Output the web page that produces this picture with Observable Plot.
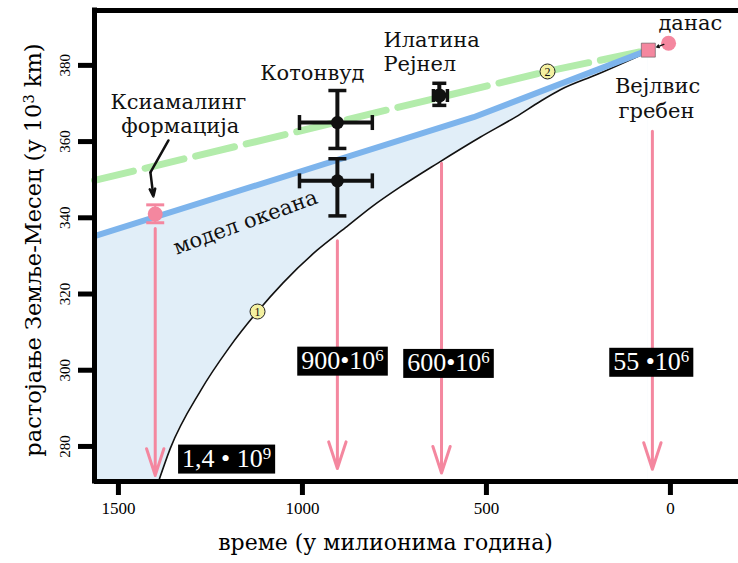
<!DOCTYPE html>
<html><head><meta charset="utf-8">
<script src="https://cdn.jsdelivr.net/npm/d3@7"></script>
<script src="https://cdn.jsdelivr.net/npm/@observablehq/plot@0.6"></script>
<style>body{margin:0;background:#fff} svg{display:block}</style>
</head><body><div id="chart"></div>
<script>
// axes
const xTicks = [1500, 1000, 500, 0];
const yTicks = [280, 300, 320, 340, 360, 380];
const xDomain = [1565, -185];
const yDomain = [270.8, 394.4];
const xLabel = "време (у милионима година)";
const yLabel = "растојање Земље-Месец (у 10^3 km)";

// black tidal curve (time in Myr, distance in 10^3 km)
const blackT = [1391, 1359, 1277, 1200, 1122, 1052, 960, 883, 810, 734, 633, 516, 420, 353, 299, 200, 60];
const blackV = [270.8, 279.5, 294.6, 305.8, 315.4, 323.0, 331.5, 337.4, 343.0, 348.1, 354.3, 361.2, 366.5, 370.6, 373.6, 377.6, 383.6];
// blue ocean model line
const blueT = [1565, 535, 60];
const blueV = [335.2, 366.4, 384];
// green dashed line
const greenT = [1565, 331, 60];
const greenV = [349.8, 378.5, 384];

// Cottonwood data points
const kotT = [905, 905];
const kotV = [365, 349.7];
const kotVlo = [358.2, 340.5];
const kotVhi = [373.4, 355.5];
const kotTlo = [1008, 1008];
const kotThi = [810, 810];
// Elatina Reynella
const ilaT = [628];
const ilaV = [372.1];
const ilaVlo = [369.5];
const ilaVhi = [375.3];
const ilaTlo = [644];
const ilaThi = [606];
// Xiamaling formation
const ksiT = [1400];
const ksiV = [341];
const ksiVlo = [338.7];
const ksiVhi = [343.4];
// Walvis ridge & today
const walT = [60];
const walV = [384];
const todT = [5];
const todV = [385.8];

// pink vertical arrows
const dropT = [1400, 905, 622, 49];
const dropTop = [337.2, 334, 354.3, 362.7];
const dropBottom = [272.4, 274.2, 273, 274];

// black label boxes
const boxText = ["1,4 • 10^9", "900•10^6", "600•10^6", "55 •10^6"];
const boxT = [1206, 891, 603, 52];
const boxV = [276.9, 302.6, 302, 302.3];

// circled numbers
const circText = ["1", "2"];
const circT = [1122, 334];
const circV = [315.4, 378.4];

// annotations (centered)
const annText = ["Котонвуд", "Ксиамалинг", "формација", "Вејлвис", "гребен", "данас"];
const annT = [973, 1337, 1332, 35, 38, -54];
const annV = [377.9, 370.4, 364.0, 374.4, 368.0, 391];
// annotations (left aligned)
const annLText = ["Илатина", "Рејнел"];
const annLT = [780, 780];
const annLV = [386.5, 380.3];

const oceanLabel = "модел океана";
const oceanT = 1155, oceanV = 338.8;

// Xiamaling pointer (two segments)
const ptrT = [1364, 1413, 1405];
const ptrV = [360.3, 351.9, 345.6];
// today -> Walvis small arrow
const smallT = [18, 37];
const smallV = [385.5, 384.8];

const zip = (ts, vs) => ts.map((t, i) => ({t, v: vs[i]}));
const black = zip(blackT, blackV);
const blue = zip(blueT, blueV);
const green = zip(greenT, greenV);
const kot = kotT.map((t, i) => ({t, v: kotV[i], lo: kotVlo[i], hi: kotVhi[i], tlo: kotTlo[i], thi: kotThi[i]}));
const ila = ilaT.map((t, i) => ({t, v: ilaV[i], lo: ilaVlo[i], hi: ilaVhi[i], tlo: ilaTlo[i], thi: ilaThi[i]}));
const ksi = ksiT.map((t, i) => ({t, v: ksiV[i], lo: ksiVlo[i], hi: ksiVhi[i]}));
const drops = dropT.map((t, i) => ({t, top: dropTop[i], bottom: dropBottom[i]}));
const boxes = boxText.map((s, i) => ({s, t: boxT[i], v: boxV[i]}));
const circs = circText.map((s, i) => ({s, t: circT[i], v: circV[i]}));
const anns = annText.map((s, i) => ({s, t: annT[i], v: annV[i]}));
const annsL = annLText.map((s, i) => ({s, t: annLT[i], v: annLV[i]}));

const hbar = {draw(ctx, size) { const r = Math.sqrt(size / Math.PI); ctx.moveTo(-r, 0); ctx.lineTo(r, 0); }};
const vbar = {draw(ctx, size) { const r = Math.sqrt(size / Math.PI); ctx.moveTo(0, -r); ctx.lineTo(0, r); }};

const pink = "#f4879f";
const serif = "Liberation Serif";
const serif2 = "DejaVu Serif";

const chart = Plot.plot({
  width: 738, height: 563,
  marginLeft: 94, marginRight: 0, marginTop: 10, marginBottom: 82,
  x: {domain: xDomain},
  y: {domain: yDomain},
  style: {fontFamily: serif, background: "white", overflow: "visible"},
  marks: [
    Plot.areaY(blue, {x: "t", y1: yDomain[0], y2: "v", fill: "#e1eef8"}),
    Plot.areaY(black, {x: "t", y1: yDomain[0], y2: "v", fill: "white", curve: "monotone-x"}),
    Plot.line(black, {x: "t", y: "v", stroke: "#111", strokeWidth: 1.6, curve: "monotone-x"}),
    Plot.arrow(drops, {x1: "t", x2: "t", y1: "top", y2: "bottom", stroke: pink, strokeWidth: 3, headLength: 14, headAngle: 36}),
    Plot.line(green, {x: "t", y: "v", stroke: "#b3ecab", strokeWidth: 7, strokeDasharray: "40,12"}),
    Plot.line(blue, {x: "t", y: "v", stroke: "#7db4ec", strokeWidth: 6, strokeLinecap: "butt"}),
    // Xiamaling
    Plot.ruleX(ksi, {x: "t", y1: "lo", y2: "hi", stroke: pink, strokeWidth: 2}),
    Plot.dot(ksi, {x: "t", y: "lo", symbol: hbar, r: 9, stroke: pink, strokeWidth: 3}),
    Plot.dot(ksi, {x: "t", y: "hi", symbol: hbar, r: 9, stroke: pink, strokeWidth: 3}),
    Plot.dot(ksi, {x: "t", y: "v", r: 7.5, fill: pink}),
    // Cottonwood
    Plot.ruleX(kot, {x: "t", y1: "lo", y2: "hi", stroke: "#111", strokeWidth: 4}),
    Plot.ruleY(kot, {y: "v", x1: "tlo", x2: "thi", stroke: "#111", strokeWidth: 4}),
    Plot.dot(kot, {x: "t", y: "lo", symbol: hbar, r: 9, stroke: "#111", strokeWidth: 3.5}),
    Plot.dot(kot, {x: "t", y: "hi", symbol: hbar, r: 9, stroke: "#111", strokeWidth: 3.5}),
    Plot.dot(kot, {x: "tlo", y: "v", symbol: vbar, r: 7.5, stroke: "#111", strokeWidth: 3.5}),
    Plot.dot(kot, {x: "thi", y: "v", symbol: vbar, r: 7.5, stroke: "#111", strokeWidth: 3.5}),
    Plot.dot(kot, {x: "t", y: "v", r: 6.5, fill: "#111"}),
    // Elatina
    Plot.ruleX(ila, {x: "t", y1: "lo", y2: "hi", stroke: "#111", strokeWidth: 4}),
    Plot.ruleY(ila, {y: "v", x1: "tlo", x2: "thi", stroke: "#111", strokeWidth: 4}),
    Plot.dot(ila, {x: "t", y: "lo", symbol: hbar, r: 7, stroke: "#111", strokeWidth: 3.5}),
    Plot.dot(ila, {x: "t", y: "hi", symbol: hbar, r: 7, stroke: "#111", strokeWidth: 3.5}),
    Plot.dot(ila, {x: "tlo", y: "v", symbol: vbar, r: 6.5, stroke: "#111", strokeWidth: 3.5}),
    Plot.dot(ila, {x: "thi", y: "v", symbol: vbar, r: 6.5, stroke: "#111", strokeWidth: 3.5}),
    Plot.dot(ila, {x: "t", y: "v", r: 7, fill: "#111"}),
    // Walvis & today
    Plot.dot(zip(walT, walV), {x: "t", y: "v", symbol: "square", r: 7.9, fill: pink, stroke: "#555", strokeWidth: 0.6}),
    Plot.dot(zip(todT, todV), {x: "t", y: "v", r: 7.5, fill: pink}),
    Plot.arrow([{t1: smallT[0], v1: smallV[0], t2: smallT[1], v2: smallV[1]}], {x1: "t1", y1: "v1", x2: "t2", y2: "v2", stroke: "#111", strokeWidth: 1.5, headLength: 5}),
    // Xiamaling pointer
    Plot.line(zip(ptrT.slice(0, 2), ptrV.slice(0, 2)), {x: "t", y: "v", stroke: "#111", strokeWidth: 2.5}),
    Plot.arrow([{t1: ptrT[1], v1: ptrV[1], t2: ptrT[2], v2: ptrV[2]}], {x1: "t1", y1: "v1", x2: "t2", y2: "v2", stroke: "#111", strokeWidth: 2.5, headLength: 10, headAngle: 40}),
    // circled numbers
    Plot.dot(circs, {x: "t", y: "v", r: 7.5, fill: "#f3f0a0", stroke: "#222", strokeWidth: 1}),
    Plot.text(circs, {x: "t", y: "v", text: "s", fontSize: 12, fill: "#111", dy: 0.5}),
    // black boxes
    Plot.text(boxes, {x: "t", y: "v", text: "s", fontSize: 26, fill: "white"}),
    // annotations
    Plot.text(anns, {x: "t", y: "v", text: "s", textAnchor: "middle", fontSize: 21, fontFamily: serif2, fill: "#111"}),
    Plot.text(annsL, {x: "t", y: "v", text: "s", textAnchor: "start", fontSize: 21, fontFamily: serif2, fill: "#111"}),
    Plot.text([oceanLabel], {x: oceanT, y: oceanV, text: (d) => d, rotate: -20, fontSize: 21, fontFamily: serif2, fill: "#111"}),
    // frame
    Plot.ruleY([yDomain[1]], {stroke: "#000", strokeWidth: 5}),
    Plot.ruleY([yDomain[0]], {stroke: "#000", strokeWidth: 5}),
    Plot.ruleX([xDomain[0]], {stroke: "#000", strokeWidth: 5, strokeLinecap: "square"}),
    // axes
    Plot.axisX({ticks: xTicks, tickSize: 14, strokeWidth: 5, tickPadding: 6, fontSize: 17, tickFormat: d3.format("d"), label: null}),
    Plot.axisY({ticks: yTicks, tickSize: 16, strokeWidth: 5, tickFormat: () => "", label: null}),
    Plot.text(yTicks, {y: (d) => d, frameAnchor: "left", textAnchor: "middle", dx: -29, rotate: -90, fontSize: 15, text: (d) => String(d)}),
    Plot.text([xLabel], {frameAnchor: "bottom", dy: 68, dx: -31, fontSize: 22, fontFamily: serif2, text: (d) => d}),
    Plot.text([yLabel], {frameAnchor: "left", textAnchor: "middle", dx: -61, dy: 4, rotate: -90, fontSize: 22.5, fontFamily: serif2, text: (d) => d})
  ]
});
document.getElementById("chart").appendChild(chart);

const ns = "http://www.w3.org/2000/svg";
const boxEls = [];
chart.querySelectorAll("text").forEach((el) => {
  const s = el.textContent;
  if (s.includes("•")) boxEls.push(el);
  if (!s.includes("^")) return;
  const m = s.match(/^(.*)\^(\S+)(.*)$/);
  if (!m) return;
  el.textContent = "";
  const a = document.createElementNS(ns, "tspan"); a.textContent = m[1]; el.appendChild(a);
  const b = document.createElementNS(ns, "tspan"); b.textContent = m[2];
  b.setAttribute("dy", "-0.45em"); b.setAttribute("font-size", "0.65em"); el.appendChild(b);
  if (m[3]) {
    const c = document.createElementNS(ns, "tspan"); c.textContent = m[3];
    c.setAttribute("dy", "0.29em"); el.appendChild(c);
  }
});
// black boxes behind box labels
boxEls.forEach((el) => {
  const bb = el.getBBox();
  const r = document.createElementNS(ns, "rect");
  r.setAttribute("x", bb.x - 4); r.setAttribute("y", bb.y + 1);
  r.setAttribute("width", bb.width + 8); r.setAttribute("height", bb.height);
  r.setAttribute("fill", "#000");
  if (el.getAttribute("transform")) r.setAttribute("transform", el.getAttribute("transform"));
  el.parentNode.insertBefore(r, el);
});
</script>
</body></html>
